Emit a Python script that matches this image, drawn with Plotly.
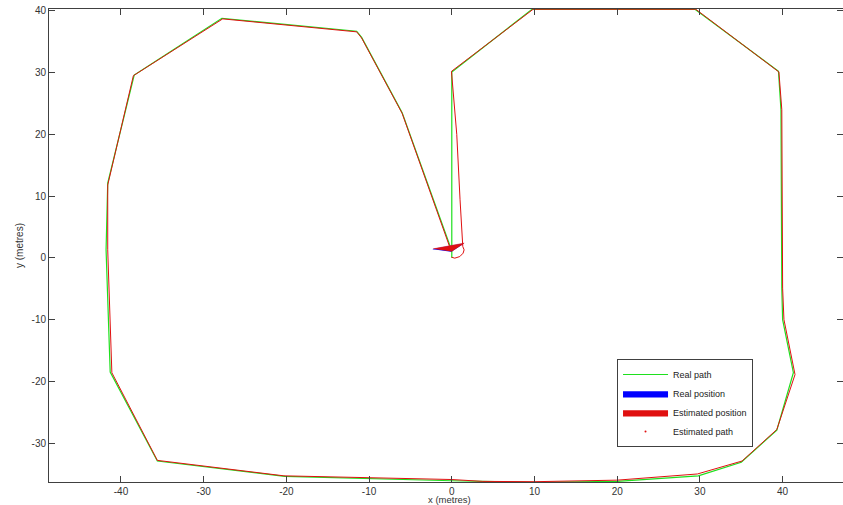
import plotly.graph_objects as go

# Real path (green)
real_x = [0.0, 0.0, 9.7, 29.4, 39.5, 39.8, 39.9, 40.0, 41.3, 39.3, 35.0, 29.8, 20.0, 10.0, 0.0, -9.9, -20.2, -35.6, -41.3, -41.8, -41.6, -38.4, -27.8, -11.5, -10.9, -6.0, -0.2]
real_y = [0.0, 30.1, 40.25, 40.25, 30.2, 24.0, -4.9, -10.0, -18.6, -27.9, -33.1, -35.3, -36.2, -36.35, -36.1, -35.7, -35.4, -32.9, -18.5, 1.3, 12.1, 29.6, 38.8, 36.7, 35.7, 23.5, 1.9]

# Estimated path (red)
est_x = [-0.04, 0.36, 0.97, 1.37, 1.49, 1.33, 1.0, 0.6, -0.04, 9.84, 29.5, 39.55, 39.9, 40.0, 40.16, 41.5, 39.3, 35.1, 29.7, 20.0, 10.0, 3.75, 0.0, -9.9, -20.3, -35.6, -41.1, -41.6, -41.6, -38.5, -27.7, -11.5, -10.9, -6.0, -0.1]
est_y = [0.11, -0.05, 0.21, 0.76, 1.30, 1.83, 9.4, 20.0, 30.2, 40.26, 40.26, 30.1, 24.0, -4.9, -10.0, -18.9, -27.8, -32.9, -35.0, -36.0, -36.25, -36.2, -35.9, -35.6, -35.3, -32.8, -18.6, 1.3, 11.8, 29.5, 38.7, 36.6, 35.6, 23.4, 1.2]

# Pose triangles
real_pos_x = [-2.3, 1.4, -0.1]
real_pos_y = [1.4, 2.3, 1.0]
est_pos_x = [-2.26, 1.49, -0.04]
est_pos_y = [1.46, 2.38, 1.02]

x_ticks = [-40, -30, -20, -10, 0, 10, 20, 30, 40]
x_tick_labels = ["-40", "-30", "-20", "-10", "0", "10", "20", "30", "40"]
y_ticks = [-30, -20, -10, 0, 10, 20, 30, 40]
y_tick_labels = ["-30", "-20", "-10", "0", "10", "20", "30", "40"]

GREEN = "#1ee01e"
RED = "#e01010"
BLUE = "#0000ff"
FONT = "Liberation Sans, Arial"

fig = go.Figure()
fig.add_trace(go.Scatter(x=real_x, y=real_y, mode="lines", name="Real path",
                         line=dict(color=GREEN, width=1.2)))
fig.add_trace(go.Scatter(x=real_pos_x, y=real_pos_y, mode="lines", fill="toself",
                         name="Real position", fillcolor=BLUE,
                         line=dict(color=BLUE, width=0.5)))
fig.add_trace(go.Scatter(x=est_x, y=est_y, mode="lines", name="Estimated path",
                         showlegend=False, line=dict(color=RED, width=1)))
fig.add_trace(go.Scatter(x=est_pos_x, y=est_pos_y, mode="lines", fill="toself",
                         name="Estimated position", fillcolor=RED,
                         line=dict(color=RED, width=0.5)))
fig.add_trace(go.Scatter(x=[None], y=[None], mode="markers", name="Estimated path",
                         marker=dict(color=RED, size=2)))

axis_common = dict(showgrid=False, zeroline=False, showline=True, linecolor="#404040",
                   linewidth=1, mirror="ticks", ticks="inside", ticklen=6, automargin=False,
                   tickcolor="#404040", tickfont=dict(family=FONT, size=10, color="#333333"))

fig.update_layout(
    width=843, height=505,
    margin=dict(l=49, r=0, t=9, b=23),
    paper_bgcolor="white", plot_bgcolor="white",
    font=dict(family=FONT, size=10, color="#333333"),
    xaxis=dict(range=[-48.7, 47.3], tickvals=x_ticks, ticktext=x_tick_labels, **axis_common),
    yaxis=dict(range=[-36.3, 40.3], tickvals=y_ticks, ticktext=y_tick_labels,
               title=dict(text="y (metres)", standoff=6, font=dict(size=10)), **axis_common),
    legend=dict(x=0.7154, y=0.26, xanchor="left", yanchor="top",
                bgcolor="white", bordercolor="#404040", borderwidth=1,
                font=dict(family=FONT, size=9, color="#222222"),
                traceorder="normal", tracegroupgap=0, itemwidth=45),
    annotations=[dict(text="x (metres)", xref="paper", yref="paper", x=0.5049, y=-0.0507,
                      xanchor="center", yanchor="bottom", showarrow=False, borderpad=0,
                      font=dict(family=FONT, size=9.5, color="#333333"))],
    showlegend=True,
)

fig.write_html("out.html", config={"displayModeBar": False},
               post_script="document.body.style.margin='0';document.body.style.overflow='hidden';")
